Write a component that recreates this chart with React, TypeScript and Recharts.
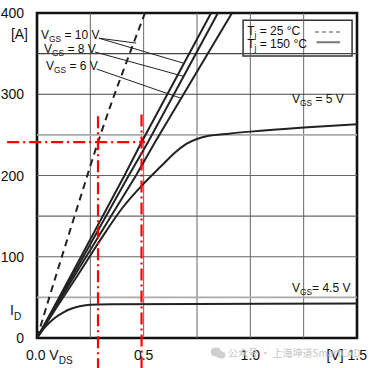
import React from 'react';
import {
  ComposedChart,
  Line,
  XAxis,
  YAxis,
  ReferenceLine,
  ReferenceArea,
  ReferenceDot,
} from 'recharts';

// ---- data (V_DS in V, I_D in A) ----
const vds25 = [0, 0.06, 0.12, 0.2, 0.286, 0.35, 0.43, 0.506];
const id25 = [0, 52, 103, 170, 241, 290, 347, 400];

const vds10 = [0, 0.1, 0.2, 0.41, 0.49, 0.816];
const id10 = [0, 48, 97, 200, 241, 400];

const vds8 = [0, 0.1, 0.2, 0.43, 0.52, 0.848];
const id8 = [0, 46, 92, 200, 241, 400];

const vds6 = [0, 0.1, 0.2, 0.464, 0.553, 0.914];
const id6 = [0, 44, 87, 200, 241, 400];

const vds5 = [0, 0.1, 0.2, 0.3, 0.4, 0.5, 0.58, 0.65, 0.7, 0.75, 0.8, 0.9, 1.0, 1.25, 1.5];
const id5 = [0, 41, 81, 122, 160, 190, 211, 229, 239, 245, 248.5, 251.5, 254, 259, 263];

const vds45 = [0, 0.04, 0.08, 0.12, 0.16, 0.2, 0.25, 0.35, 0.75, 1.5];
const id45 = [0, 14, 24, 31, 36, 39, 41, 41.5, 42, 42.5];

const xTicks = [0, 0.5, 1.0, 1.5];
const xTickLabels = ['0.0', '0.5', '1.0', '1.5'];
const yTicks = [0, 35, 100, 200, 300, 374, 400];
const yTickLabels = ['0', 'I', '100', '200', '300', '[A]', '400'];

const hGrid = [50, 100, 150, 200, 250, 300, 350];
const hGridColor = ['#aaa', '#666', '#666', '#666', '#aaa', '#444', '#444'];
const vGrid = [0.25, 0.5, 0.75, 1.0, 1.25];

// operating point markers
const vOp25 = 0.286;
const vOp150 = 0.49;
const iOp = 241;

const FONT = '"Liberation Sans", Arial, Helvetica, sans-serif';

const pts = (xs: number[], ys: number[]) => xs.map((v, k) => ({ v, i: ys[k] }));

const XTick = (props: any) => {
  const { x, y, payload } = props;
  const idx = xTicks.indexOf(payload.value);
  const lab = xTickLabels[idx] ?? String(payload.value);
  const by = y + 22;
  if (payload.value === 0) {
    return (
      <text x={x - 11} y={by} fontSize={14} fontFamily={FONT} fill="#111" textAnchor="start">
        {lab} V
        <tspan fontSize={10} dy={4}>DS</tspan>
      </text>
    );
  }
  if (payload.value === 1.5) {
    return (
      <text x={x + 10} y={by} fontSize={14} fontFamily={FONT} fill="#111" textAnchor="end">
        [V] {lab}
      </text>
    );
  }
  return (
    <text x={x} y={by} fontSize={14} fontFamily={FONT} fill="#111" textAnchor="middle">
      {lab}
    </text>
  );
};

const YTick = (props: any) => {
  const { x, y, payload } = props;
  const idx = yTicks.indexOf(payload.value);
  const lab = yTickLabels[idx] ?? String(payload.value);
  if (lab === 'I') {
    return (
      <text x={x - 27} y={y + 5} fontSize={14} fontFamily={FONT} fill="#111" textAnchor="start">
        I<tspan fontSize={10} dy={5}>D</tspan>
      </text>
    );
  }
  const dx = lab === '[A]' ? -9 : -13;
  return (
    <text x={x + dx} y={y + 5} fontSize={14} fontFamily={FONT} fill="#111" textAnchor="end">
      {lab}
    </text>
  );
};

const annot = (main: string, sub: string, rest: string, size = 12) => (props: any) => {
  const vb = props.viewBox || {};
  const x = (vb.x ?? 0) + (vb.width ?? 0) / 2;
  const y = (vb.y ?? 0) + (vb.height ?? 0) / 2 + size * 0.36;
  return (
    <text x={x} y={y} fontSize={size} fontFamily={FONT} fill="#111" textAnchor="start">
      {main}
      <tspan fontSize={size * 0.7} dy={3}>{sub}</tspan>
      <tspan dy={-3}>{rest}</tspan>
    </text>
  );
};

const Anno = (p: { x: number; y: number; main: string; sub: string; rest: string }) => null;

export default function App() {
  const annotations = [
    { x: 0.019, y: 373, main: 'V', sub: 'GS', rest: ' = 10 V' },
    { x: 0.033, y: 356, main: 'V', sub: 'GS', rest: ' = 8 V' },
    { x: 0.042, y: 335, main: 'V', sub: 'GS', rest: ' = 6 V' },
    { x: 1.195, y: 294, main: 'V', sub: 'GS', rest: ' = 5 V' },
    { x: 1.195, y: 61.5, main: 'V', sub: 'GS', rest: '=   4.5 V' },
    { x: 0.985, y: 378, main: 'T', sub: 'j', rest: ' = 25 °C' },
    { x: 0.985, y: 362, main: 'T', sub: 'j', rest: ' = 150 °C' },
  ];
  return (
    <div style={{ position: 'absolute', left: 0, top: 0, width: 373, height: 368, background: '#fff' }}>
      <ComposedChart
        width={373}
        height={368}
        margin={{ top: 13, right: 16, bottom: 0, left: 0 }}
      >
        <XAxis
          dataKey="v"
          type="number"
          domain={[0, 1.5]}
          ticks={xTicks}
          allowDataOverflow
          axisLine={false}
          tickLine={false}
          tickSize={0}
          tickMargin={0}
          height={30}
          tick={<XTick />}
          interval={0}
        />
        <YAxis
          type="number"
          domain={[0, 400]}
          ticks={yTicks}
          allowDataOverflow
          axisLine={false}
          tickLine={false}
          tickSize={0}
          tickMargin={0}
          width={37}
          tick={<YTick />}
          interval={0}
        />
        {vGrid.map((v) => (
          <ReferenceLine key={'vg' + v} x={v} stroke="#666" strokeWidth={1} />
        ))}
        {hGrid.map((h, k) => (
          <ReferenceLine
            key={'hg' + h}
            y={h}
            stroke={hGridColor[k]}
            strokeWidth={hGridColor[k] === '#aaa' ? 1.8 : 1.2}
          />
        ))}
        <ReferenceArea x1={0.966} x2={1.477} y1={347} y2={391} fill="#fff" fillOpacity={1} stroke="#333" strokeWidth={1.5} />
        <ReferenceLine segment={[{ x: 1.303, y: 376.6 }, { x: 1.42, y: 376.6 }]} stroke="#555" strokeWidth={1.2} strokeDasharray="4 3" />
        <ReferenceLine segment={[{ x: 1.31, y: 364 }, { x: 1.42, y: 364 }]} stroke="#777" strokeWidth={2} />

        {/* leader lines */}
        <ReferenceLine segment={[{ x: 0.29, y: 369 }, { x: 0.465, y: 363 }]} stroke="#222" strokeWidth={1} />
        <ReferenceLine segment={[{ x: 0.29, y: 369 }, { x: 0.69, y: 338 }]} stroke="#222" strokeWidth={1} />
        <ReferenceLine segment={[{ x: 0.272, y: 352 }, { x: 0.688, y: 322 }]} stroke="#222" strokeWidth={1} />
        <ReferenceLine segment={[{ x: 0.28, y: 331 }, { x: 0.676, y: 295 }]} stroke="#222" strokeWidth={1} />

        <Line data={pts(vds25, id25)} dataKey="i" type="monotone" stroke="#222" strokeWidth={2} strokeDasharray="7 5" dot={false} isAnimationActive={false} />
        <Line data={pts(vds10, id10)} dataKey="i" type="linear" stroke="#222" strokeWidth={2} dot={false} isAnimationActive={false} />
        <Line data={pts(vds8, id8)} dataKey="i" type="linear" stroke="#222" strokeWidth={2} dot={false} isAnimationActive={false} />
        <Line data={pts(vds6, id6)} dataKey="i" type="linear" stroke="#222" strokeWidth={2} dot={false} isAnimationActive={false} />
        <Line data={pts(vds5, id5)} dataKey="i" type="monotone" stroke="#222" strokeWidth={2} dot={false} isAnimationActive={false} />
        <Line data={pts(vds45, id45)} dataKey="i" type="monotone" stroke="#222" strokeWidth={2} dot={false} isAnimationActive={false} />

        {/* red operating point construction */}
        <ReferenceLine segment={[{ x: -0.14, y: iOp }, { x: 0.506, y: iOp }]} stroke="#f00" strokeWidth={2.2} strokeDasharray="12 4 2 4" ifOverflow="visible" />
        <ReferenceLine segment={[{ x: vOp25, y: 273 }, { x: vOp25, y: -37 }]} stroke="#f00" strokeWidth={2.2} strokeDasharray="12 4 2 4" ifOverflow="visible" />
        <ReferenceLine segment={[{ x: vOp150, y: 275 }, { x: vOp150, y: -37 }]} stroke="#f00" strokeWidth={2.2} strokeDasharray="12 4 2 4" ifOverflow="visible" />

        <ReferenceArea x1={0} x2={1.5} y1={0} y2={400} fill="none" stroke="#111" strokeWidth={2.6} ifOverflow="visible" />

        {annotations.map((a, k) => (
          <ReferenceDot
            key={'an' + k}
            x={a.x}
            y={a.y}
            r={0}
            fill="none"
            stroke="none"
            label={{ content: annot(a.main, a.sub, a.rest) }}
          />
        ))}
      </ComposedChart>
      <div
        style={{
          position: 'absolute',
          left: 210,
          top: 346,
          fontFamily: '"Noto Sans CJK SC", ' + FONT,
          fontSize: 10,
          color: '#c4c4c4',
          whiteSpace: 'nowrap',
          lineHeight: '14px',
          display: 'flex',
          alignItems: 'center',
          pointerEvents: 'none',
        }}
      >
        <svg width={16} height={12} style={{ marginRight: 2 }}>
          <ellipse cx={6} cy={5} rx={5.5} ry={4.5} fill="#cfcfcf" />
          <ellipse cx={11} cy={8} rx={4.5} ry={3.5} fill="#cfcfcf" />
        </svg>
        <span>公众号 · 上海坤道SmartCAD</span>
      </div>
    </div>
  );
}
